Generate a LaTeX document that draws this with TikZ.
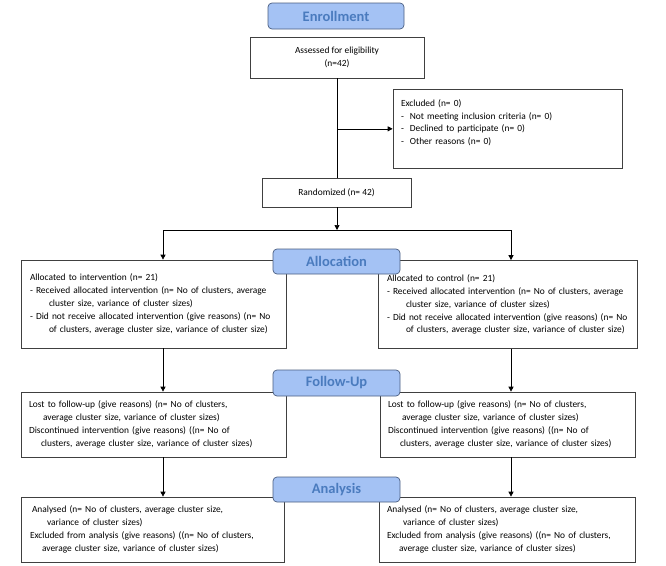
\documentclass[tikz,border=0pt]{standalone}
\usepackage{fontspec}
\setmainfont{Carlito}
\usetikzlibrary{arrows.meta}

\definecolor{stagefill}{HTML}{A4C2F4}
\definecolor{stagedraw}{HTML}{4A5E80}
\definecolor{stagetext}{HTML}{4A7BBE}
\definecolor{boxdraw}{HTML}{404040}

\begin{document}
\begin{tikzpicture}[x=1pt,y=-1pt,
    stage/.style={draw=stagedraw, fill=stagefill, rounded corners=4pt, line width=0.7pt,
        text=stagetext, font=\bfseries\fontsize{14.5}{16}\selectfont, inner sep=0pt},
    plainbox/.style={draw=boxdraw, line width=0.7pt, fill=white, inner sep=0pt,
        font=\fontsize{9.4}{12.9}\selectfont},
    listbox/.style={plainbox, align=left, inner xsep=8pt},
    arr/.style={-{Triangle[length=5pt,width=5pt]}, line width=0.7pt},
    con/.style={line width=0.7pt}]
    \useasboundingbox (0,0) rectangle (666,565);

    \node[stage, minimum width=136pt, minimum height=26pt] (enroll) at (336,16) {Enrollment};
    \node[plainbox, align=center, minimum width=174pt, minimum height=41pt] (assess) at (337,57.5)
        {Assessed for eligibility\\(n=42)};
    \node[listbox, text width=213pt, minimum height=79pt] (excl) at (507.5,128.5)
        {Excluded (n= 0)\\
        -\hspace{6pt}Not meeting inclusion criteria (n= 0)\\
        -\hspace{6pt}Declined to participate (n= 0)\\
        -\hspace{6pt}Other reasons (n= 0)\\ \mbox{}};
    \node[plainbox, minimum width=149pt, minimum height=29pt] (rand) at (336.5,192.5) {Randomized (n= 42)};

    \node[listbox, text width=249pt, minimum height=88pt] (allocL) at (153.5,304)
        {\hspace*{1pt}Allocated to intervention (n= 21)\\
        \hspace*{1pt}- Received allocated intervention (n= No of clusters, average\\
        \hspace*{20pt}cluster size, variance of cluster sizes)\\
        \hspace*{1pt}- Did not receive allocated intervention (give reasons) (n= No\\
        \hspace*{20pt}of clusters, average cluster size, variance of cluster size)};
    \node[listbox, text width=243pt, minimum height=88pt] (allocR) at (507.5,304.5)
        {\hspace*{1pt}Allocated to control (n= 21)\\
        \hspace*{1pt}- Received allocated intervention (n= No of clusters, average\\
        \hspace*{20pt}cluster size, variance of cluster sizes)\\
        \hspace*{1pt}- Did not receive allocated intervention (give reasons) (n= No\\
        \hspace*{20pt}of clusters, average cluster size, variance of cluster size)};
    \node[stage, minimum width=127pt, minimum height=25pt] (alloc) at (336.5,261.5) {Allocation};

    \node[listbox, text width=249pt, minimum height=65pt] (followL) at (153.5,424.5)
        {Lost to follow-up (give reasons) (n= No of clusters,\\
        \hspace*{14pt}average cluster size, variance of cluster sizes)\\
        Discontinued intervention (give reasons) ((n= No of\\
        \hspace*{12pt}clusters, average cluster size, variance of cluster sizes)};
    \node[listbox, text width=239pt, minimum height=65pt] (followR) at (507.5,424.5)
        {Lost to follow-up (give reasons) (n= No of clusters,\\
        \hspace*{14pt}average cluster size, variance of cluster sizes)\\
        Discontinued intervention (give reasons) ((n= No of\\
        \hspace*{12pt}clusters, average cluster size, variance of cluster sizes)};
    \node[stage, minimum width=127pt, minimum height=26pt] (follow) at (336.5,383) {Follow-Up};

    \node[listbox, text width=247pt, minimum height=65pt] (anaL) at (152.5,529.5)
        {\hspace*{3pt}Analysed (n= No of clusters, average cluster size,\\
        \hspace*{18pt}variance of cluster sizes)\\
        \hspace*{1pt}Excluded from analysis (give reasons) ((n= No of clusters,\\
        \hspace*{13pt}average cluster size, variance of cluster sizes)};
    \node[listbox, text width=240pt, minimum height=65pt] (anaR) at (507,529.5)
        {Analysed (n= No of clusters, average cluster size,\\
        \hspace*{16pt}variance of cluster sizes)\\
        Excluded from analysis (give reasons) ((n= No of clusters,\\
        \hspace*{12pt}average cluster size, variance of cluster sizes)};
    \node[stage, minimum width=127pt, minimum height=25pt] (analysis) at (336.5,489.5) {Analysis};

    \coordinate (split) at (337,230);
    \coordinate (colL) at (163,230);
    \coordinate (colR) at (511,230);

    \draw[con] (assess.south -| split) -- (rand.north -| split);
    \draw[arr] (assess.south -| split) ++(0,50.5) coordinate (exclturn) -- (exclturn -| excl.west);
    \draw[arr] (rand.south -| split) -- (split);
    \draw[con] (colL) -- (colR);
    \draw[arr] (colL) -- (allocL.north -| colL);
    \draw[arr] (colR) -- (allocR.north -| colR);
    \draw[arr] (allocL.south -| colL) -- (followL.north -| colL);
    \draw[arr] (allocR.south -| colR) -- (followR.north -| colR);
    \draw[arr] (followL.south -| colL) -- (anaL.north -| colL);
    \draw[arr] (followR.south -| colR) -- (anaR.north -| colR);

    \end{tikzpicture}
\end{document}
